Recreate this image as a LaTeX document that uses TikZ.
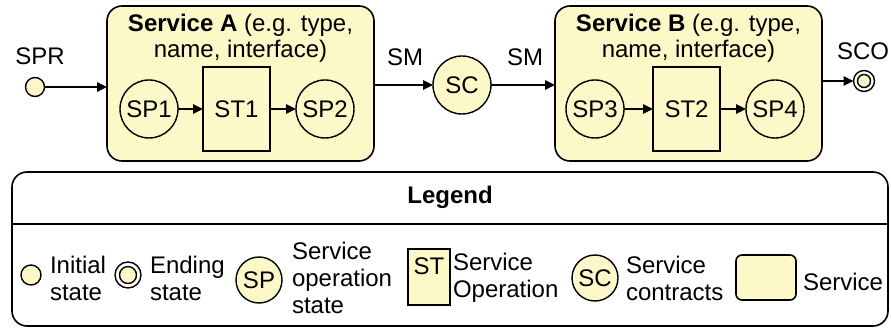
\documentclass[tikz,border=0pt]{standalone}
\usepackage{fontspec}
\setmainfont{Liberation Sans}
\usetikzlibrary{arrows.meta}
\definecolor{pale}{RGB}{252,248,200}
\begin{document}
\begin{tikzpicture}[x=1pt,y=-1pt,
  every node/.style={font=\fontsize{24}{26}\selectfont, inner sep=0pt, outer sep=0pt},
  svcbox/.style={draw, line width=1.6pt, fill=pale, rounded corners=15pt},
  spstate/.style={circle, draw, line width=1.4pt, fill=pale, minimum size=58pt},
  opbox/.style={rectangle, draw, line width=1.4pt, fill=pale, minimum width=67pt, minimum height=84pt},
  flow/.style={line width=1.4pt, -{Triangle[length=10pt,width=9.5pt]}},
  initstate/.style={circle, draw, line width=1.4pt, fill=pale, minimum size=#1},
  endstate/.style={circle, draw, line width=1.4pt, fill=white, minimum size=#1},
  lgtxt/.style={anchor=west, align=left, font=\fontsize{24}{27}\selectfont}
]
\useasboundingbox (0,0) rectangle (891,328);

% ---------- Service A ----------
\node[svcbox, minimum width=267pt, minimum height=155pt] (SA) at (240.5,83.5) {};
\node[align=center] (SAt) at (240.5,38.5) {\textbf{Service A} (e.g. type,\\name, interface)};
\node[spstate] (SP1) at (149,109) {SP1};
\node[opbox] (ST1) at (236.5,109) {ST1};
\node[spstate] (SP2) at (325,109) {SP2};
\draw[flow] (SP1) -- (ST1);
\draw[flow] (ST1) -- (SP2);

% ---------- Service B ----------
\node[svcbox, minimum width=267pt, minimum height=155pt] (SB) at (688.5,83.5) {};
\node[align=center] (SBt) at (688.5,38.5) {\textbf{Service B} (e.g. type,\\name, interface)};
\node[spstate] (SP3) at (595,109) {SP3};
\node[opbox] (ST2) at (686.5,109) {ST2};
\node[spstate] (SP4) at (775,109) {SP4};
\draw[flow] (SP3) -- (ST2);
\draw[flow] (ST2) -- (SP4);

% ---------- Flow ----------
\node[initstate=19pt] (Init) at (35,87) {};
\node[anchor=base] (SPR) at (40,65) {SPR};
\node[spstate] (SC) at (462,85) {SC};
\node[anchor=base] (SM1) at (405,66) {SM};
\node[anchor=base] (SM2) at (525,66) {SM};
\node[endstate=21pt, path picture={\draw[line width=1.4pt, fill=pale] (path picture bounding box.center) circle (6.5pt);}] (End) at (864,81) {};
\node[anchor=base] (SCO) at (863,60) {SCO};
\draw[flow] (Init) -- (SA.west |- Init);
\draw[flow] (SA.east |- SC) -- (SC);
\draw[flow] (SC) -- (SB.west |- SC);
\draw[flow] (SB.east |- End) -- (End);

% ---------- Legend ----------
\node[draw, line width=1.6pt, rounded corners=15pt, minimum width=876pt, minimum height=154pt] (LG) at (450,249) {};
\coordinate (D1) at (12,224);
\coordinate (D2) at (888,224);
\draw[line width=1.6pt] (D1) -- (D2);
\node[anchor=base, font=\bfseries\fontsize{24}{26}\selectfont] (LGt) at (450,204) {Legend};

\node[initstate=20pt] (LInit) at (31,275) {};
\node[lgtxt] (LInitT) at (50,278) {Initial\\state};
\node[endstate=26pt, path picture={\draw[line width=1.4pt, fill=pale] (path picture bounding box.center) circle (8.5pt);}] (LEnd) at (128,275) {};
\node[lgtxt] (LEndT) at (150,278) {Ending\\state};
\node[spstate, minimum size=46pt] (LSP) at (259,280) {SP};
\node[lgtxt] (LSPT) at (292,278) {Service\\operation\\state};
\node[opbox, minimum width=42pt, minimum height=56pt, text depth=22pt] (LST) at (429,277) {ST};
\node[lgtxt] (LSTT) at (453,278) {Service\\Operation};
\node[spstate, minimum size=46pt] (LSC) at (595,278) {SC};
\node[lgtxt] (LSCT) at (626,278) {Service\\contracts};
\node[draw, line width=1.6pt, fill=pale, rounded corners=6pt, minimum width=60pt, minimum height=45pt] (LSV) at (766,277.5) {};
\node[lgtxt] (LSVT) at (803,282) {Service};
\end{tikzpicture}
\end{document}
